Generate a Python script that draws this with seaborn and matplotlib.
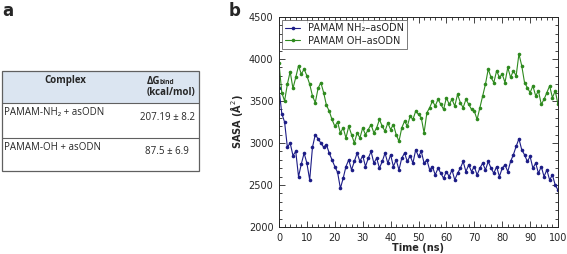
import numpy as np
import pandas as pd
import matplotlib
matplotlib.use("Agg")
import matplotlib.pyplot as plt
import seaborn as sns
from matplotlib.ticker import MultipleLocator
from matplotlib.patches import Rectangle

# panel a: table
table_header = ["Complex", "ΔG", "bind", "(kcal/mol)"]
complexes = ["PAMAM-NH₂ + asODN", "PAMAM-OH + asODN"]
dg_bind = ["207.19 ± 8.2", "87.5 ± 6.9"]

# panel b: SASA over time (1 ns steps)
time_ns = list(range(0, 101))
sasa_nh2 = [3650, 3350, 3250, 2950, 3000, 2850, 2900, 2600, 2750, 2880,
            2760, 2560, 2950, 3100, 3050, 3000, 2950, 2980, 2880, 2800,
            2720, 2650, 2460, 2580, 2720, 2800, 2680, 2780, 2880, 2780,
            2850, 2720, 2820, 2900, 2760, 2820, 2700, 2780, 2880, 2760,
            2860, 2720, 2800, 2680, 2820, 2880, 2780, 2850, 2760, 2920,
            2840, 2900, 2760, 2800, 2680, 2720, 2620, 2700, 2640, 2580,
            2660, 2600, 2680, 2560, 2640, 2700, 2780, 2660, 2740, 2660,
            2720, 2620, 2700, 2760, 2680, 2780, 2700, 2640, 2720, 2600,
            2700, 2740, 2660, 2780, 2860, 2960, 3050, 2920, 2860, 2780,
            2840, 2700, 2760, 2640, 2720, 2600, 2680, 2560, 2620, 2500,
            2440]
sasa_oh = [3950, 3600, 3500, 3700, 3850, 3650, 3780, 3920, 3820, 3880,
           3800, 3700, 3560, 3480, 3650, 3720, 3600, 3450, 3380, 3280,
           3200, 3250, 3120, 3180, 3060, 3200, 3100, 3000, 3120, 3060,
           3180, 3100, 3160, 3220, 3120, 3180, 3280, 3200, 3140, 3240,
           3160, 3220, 3100, 3020, 3180, 3260, 3200, 3320, 3280, 3380,
           3340, 3300, 3120, 3360, 3420, 3500, 3440, 3520, 3460, 3400,
           3540, 3460, 3520, 3440, 3580, 3480, 3420, 3520, 3460, 3400,
           3380, 3280, 3420, 3560, 3700, 3880, 3780, 3720, 3860, 3780,
           3820, 3720, 3900, 3780, 3860, 3800, 4060, 3920, 3720, 3660,
           3600, 3680, 3560, 3620, 3460, 3520, 3600, 3680, 3540, 3620,
           3460]
series_names = ["PAMAM NH₂–asODN", "PAMAM OH–asODN"]
colors = ["#1c1c86", "#2e8a1e"]

df = pd.DataFrame({
    "Time": time_ns * 2,
    "SASA": sasa_nh2 + sasa_oh,
    "System": [series_names[0]] * len(time_ns) + [series_names[1]] * len(time_ns),
})

sns.set_style("ticks")
plt.rcParams["font.family"] = ["DejaVu Sans"]

W, H = 567, 254
fig = plt.figure(figsize=(W / 100, H / 100), dpi=100)

fig.text(2 / W, 1 - 2 / H, "a", fontsize=12, fontweight="bold", va="top", ha="left")
fig.text(229 / W, 1 - 2 / H, "b", fontsize=12, fontweight="bold", va="top", ha="left")

# ---- table (pixel coordinates) ----
tax = fig.add_axes([0, 0, 1, 1])
tax.set_xlim(0, W)
tax.set_ylim(H, 0)
tax.axis("off")
tfont = ["Open Sans", "DejaVu Sans"]
tax.add_patch(Rectangle((2, 71), 197, 32, facecolor="#dbe5f1", edgecolor="none"))
tax.add_patch(Rectangle((2, 71), 197, 100, facecolor="none", edgecolor="#606060", lw=0.9))
for yl in [103, 138]:
    tax.plot([2, 199], [yl, yl], color="#606060", lw=0.8)
tax.text(65, 80, table_header[0], fontsize=7, fontweight="bold", ha="center", va="center", family=tfont)
tax.text(160, 81, table_header[1], fontsize=7, fontweight="bold", ha="right", va="center", family=tfont)
tax.text(160, 83, table_header[2], fontsize=4.8, fontweight="bold", ha="left", va="center", family=tfont)
tax.text(171, 93, table_header[3], fontsize=7, fontweight="bold", ha="center", va="center", family=tfont)
for i, (c, v) in enumerate(zip(complexes, dg_bind)):
    y0 = 103 + 34 * i
    tax.text(4, y0 + 10, c, fontsize=7, ha="left", va="center", family=tfont)
    tax.text(167, y0 + 14, v, fontsize=7, ha="center", va="center", family=tfont)

# ---- SASA plot ----
ax = fig.add_axes([279 / W, 1 - 227 / H, (558 - 279) / W, (227 - 17) / H])
sns.lineplot(data=df, x="Time", y="SASA", hue="System", palette=colors, ax=ax,
             marker="o", markersize=2.6, markeredgewidth=0, linewidth=0.8)
ax.set_xlim(0, 100)
ax.set_ylim(2000, 4500)
ax.xaxis.set_major_locator(MultipleLocator(10))
ax.xaxis.set_minor_locator(MultipleLocator(2))
ax.yaxis.set_major_locator(MultipleLocator(500))
ax.yaxis.set_minor_locator(MultipleLocator(100))
ax.tick_params(which="both", direction="in", top=True, right=True, labelsize=7, width=0.6)
ax.tick_params(which="major", length=4, pad=4)
ax.tick_params(which="minor", length=2)
for s in ax.spines.values():
    s.set_linewidth(0.7)
ax.set_xlabel("Time (ns)", fontsize=7, fontweight="bold", labelpad=0)
ax.set_ylabel("SASA (Å$^2$)", fontsize=7, fontweight="bold", labelpad=3)
leg = ax.legend(loc="upper left", fontsize=7, frameon=True, fancybox=False,
                edgecolor="#404040", borderpad=0.35, handlelength=1.5,
                labelspacing=0.25, borderaxespad=0.3)
leg.get_frame().set_linewidth(0.6)

fig.savefig("out.png", dpi=100)
